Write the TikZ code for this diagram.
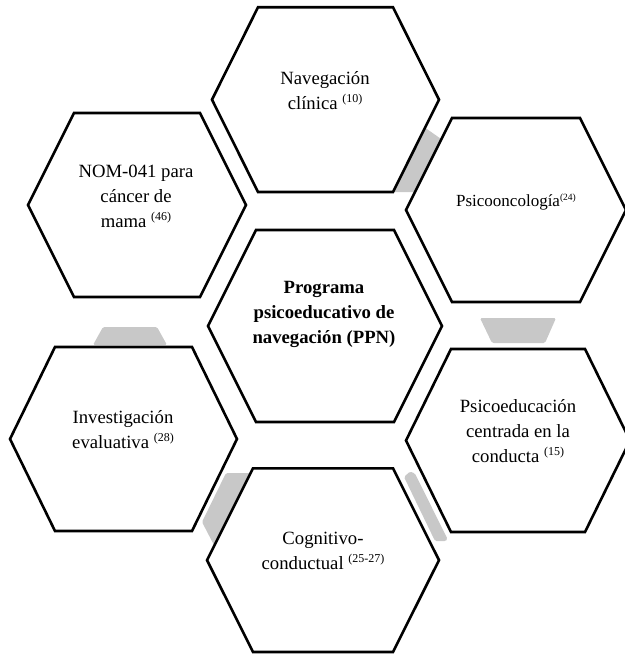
\documentclass[tikz,border=0pt]{standalone}
\usepackage{fontspec}
\setmainfont{Liberation Serif}
\definecolor{conn}{RGB}{200,200,200}
\newcommand{\hexdraw}[5]{% lx rx ty by inset
  \draw[hexa] (#1,{(#3+#4)/2}) -- (#1+#5,#3) -- (#2-#5,#3) -- (#2,{(#3+#4)/2}) -- (#2-#5,#4) -- (#1+#5,#4) -- cycle;}
\newcommand{\supref}[1]{\raisebox{7pt}{\fontsize{12}{12}\selectfont #1}}
\begin{document}
\begin{tikzpicture}[x=1pt,y=-1pt,
  hexa/.style={draw=black, line width=2.6pt, fill=white},
  connector/.style={fill=conn, draw=none, rounded corners=1.5pt},
  lbl/.style={align=center, font=\fontsize{18.7}{25}\selectfont, inner sep=0pt}]
\useasboundingbox (0,0) rectangle (624,655);
% grey connectors
\fill[connector] (424,127) -- (444,141) -- (418,192) -- (392,192) -- cycle;
\fill[connector] (480,318) -- (556,318) -- (545,343) -- (492,343) -- cycle;
\fill[connector] (103,327) -- (157,327) -- (167,345) -- (93,345) -- cycle;
\fill[connector] (226,473) -- (256,473) -- (216,549) -- (202,522) -- cycle;
\fill[connector] (404,477) -- (410,471.5) -- (415,473.5) -- (447.5,539) -- (446,541) -- (435,541) -- cycle;
% hexagons
\hexdraw{212}{439}{7.3}{192}{46}
\hexdraw{28}{246}{113}{297}{46}
\hexdraw{406}{626}{118}{302}{46}
\hexdraw{208}{442}{230}{422}{48}
\hexdraw{10}{237}{347}{531}{45}
\hexdraw{406}{630}{349}{532}{45}
\hexdraw{207}{439}{468.3}{652}{46}
% labels
\node[lbl] (nav) at (325,91) {Navegación\\clínica \supref{(10)}};
\node[lbl] (nom) at (136,196) {NOM-041 para\\cáncer de\\mama \supref{(46)}};
\node[lbl, font=\fontsize{17}{21}\selectfont] (psico) at (516,202) {Psicooncología\raisebox{6pt}{\fontsize{9.5}{10}\selectfont (24)}};
\node[lbl, font=\bfseries\fontsize{18.7}{25}\selectfont] (ppn) at (324,314) {Programa\\psicoeducativo de\\navegación (PPN)};
\node[lbl] (inv) at (123,430) {Investigación\\evaluativa \supref{(28)}};
\node[lbl] (psed) at (518,431) {Psicoeducación\\centrada en la\\conducta \supref{(15)}};
\node[lbl] (cog) at (323,551) {Cognitivo-\\conductual \supref{(25-27)}};
\end{tikzpicture}
\end{document}
